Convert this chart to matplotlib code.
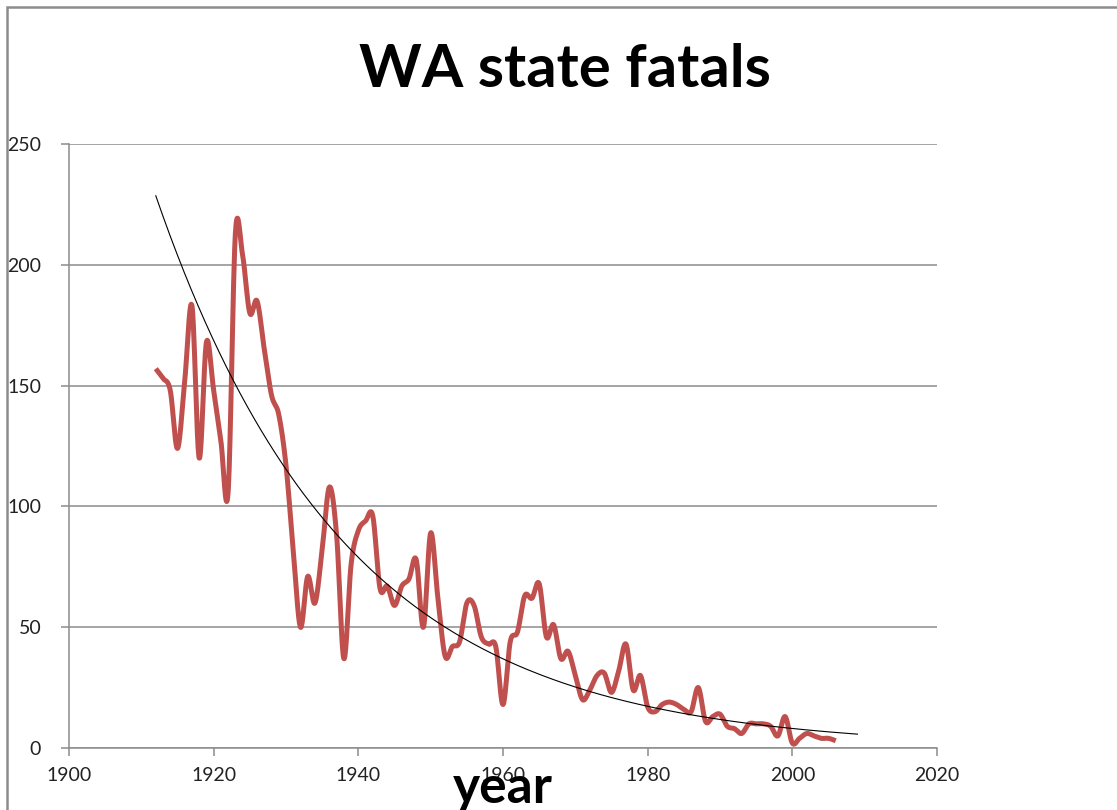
import numpy as np
import matplotlib
matplotlib.use("Agg")
import matplotlib.pyplot as plt
from matplotlib.patches import Rectangle

# WA state fatals per year
years = list(range(1912, 2007))
fatals = [157, 153, 148, 124, 152, 183, 120, 168, 148, 127,
          106, 213, 204, 180, 185, 165, 146, 138, 117, 82,
          50, 71, 60, 82, 108, 88, 37, 76, 90, 94,
          96, 66, 67, 59, 67, 70, 78, 50, 89, 62,
          38, 42, 44, 60, 59, 46, 43, 42, 18, 44,
          48, 63, 62, 68, 46, 51, 37, 40, 30, 20,
          24, 30, 31, 23, 32, 43, 24, 30, 17, 15,
          18, 19, 18, 16, 15, 25, 11, 13, 14, 9,
          8, 6, 10, 10, 10, 9, 5, 13, 2, 4,
          6, 5, 4, 4, 3]
x_ticks = [1900, 1920, 1940, 1960, 1980, 2000, 2020]
y_ticks = [0, 50, 100, 150, 200, 250]
forecast_years = 3


def smooth(xs, ys, n=20):
    # bezier smoothing like spreadsheet "smoothed line"
    p = np.column_stack([xs, ys]).astype(float)
    p = np.vstack([p[0], p, p[-1]])
    out = []
    t = np.linspace(0, 1, n, endpoint=False)[:, None]
    for i in range(1, len(p) - 2):
        p0, p1, p2, p3 = p[i - 1], p[i], p[i + 1], p[i + 2]
        b1 = p1 + (p2 - p0) / 6
        b2 = p2 - (p3 - p1) / 6
        seg = ((1 - t) ** 3) * p1 + 3 * ((1 - t) ** 2) * t * b1 + 3 * (1 - t) * t ** 2 * b2 + t ** 3 * p2
        out.append(seg)
    out.append(p[-2][None, :])
    out = np.vstack(out)
    return out[:, 0], out[:, 1]


# exponential trendline
yr = np.array(years, dtype=float)
b, a = np.polyfit(yr, np.log(fatals), 1)
trend_x = np.linspace(years[0], years[-1] + forecast_years, 300)
trend_y = np.exp(a + b * trend_x)

fig = plt.figure(figsize=(11.17, 8.10), dpi=100)
fig.patches.append(Rectangle((7 / 1117, -0.1), 1.2, 1 - 7 / 810 + 0.1,
                             transform=fig.transFigure, fill=False,
                             edgecolor="#8c8c8c", linewidth=1.8))

ax = fig.add_axes([69 / 1117, 1 - 748 / 810, (937 - 69) / 1117, (748 - 144) / 810])
sx, sy = smooth(years, fatals)
ax.plot(sx, sy, color="#C0504D", linewidth=3.6, solid_capstyle="butt", zorder=3)
ax.plot(trend_x, trend_y, color="black", linewidth=0.8, zorder=4)

ax.set_xlim(1900, 2020)
ax.set_ylim(0, 250)
ax.set_xticks(x_ticks)
ax.set_yticks(y_ticks)
ax.grid(axis="y", color="#8c8c8c", linewidth=1.1)
ax.set_axisbelow(True)
for s in ["top", "right"]:
    ax.spines[s].set_visible(False)
for s in ["left", "bottom"]:
    ax.spines[s].set_color("#8c8c8c")
    ax.spines[s].set_linewidth(1.1)
ax.tick_params(axis="both", direction="out", length=6, color="#8c8c8c", width=1.1,
               labelsize=14, labelcolor="#222222")
ax.tick_params(axis="y", pad=14)
ax.tick_params(axis="x", pad=8)
for lbl in ax.get_xticklabels() + ax.get_yticklabels():
    lbl.set_family("Lato")

ax.set_xlabel("year", fontsize=37, fontweight="bold", family="Lato", labelpad=-14)
fig.text(565 / 1117, 1 - 70 / 810, "WA state fatals", fontsize=43, fontweight="bold",
         family="Lato", ha="center", va="center")

fig.savefig("out.png", dpi=100)
